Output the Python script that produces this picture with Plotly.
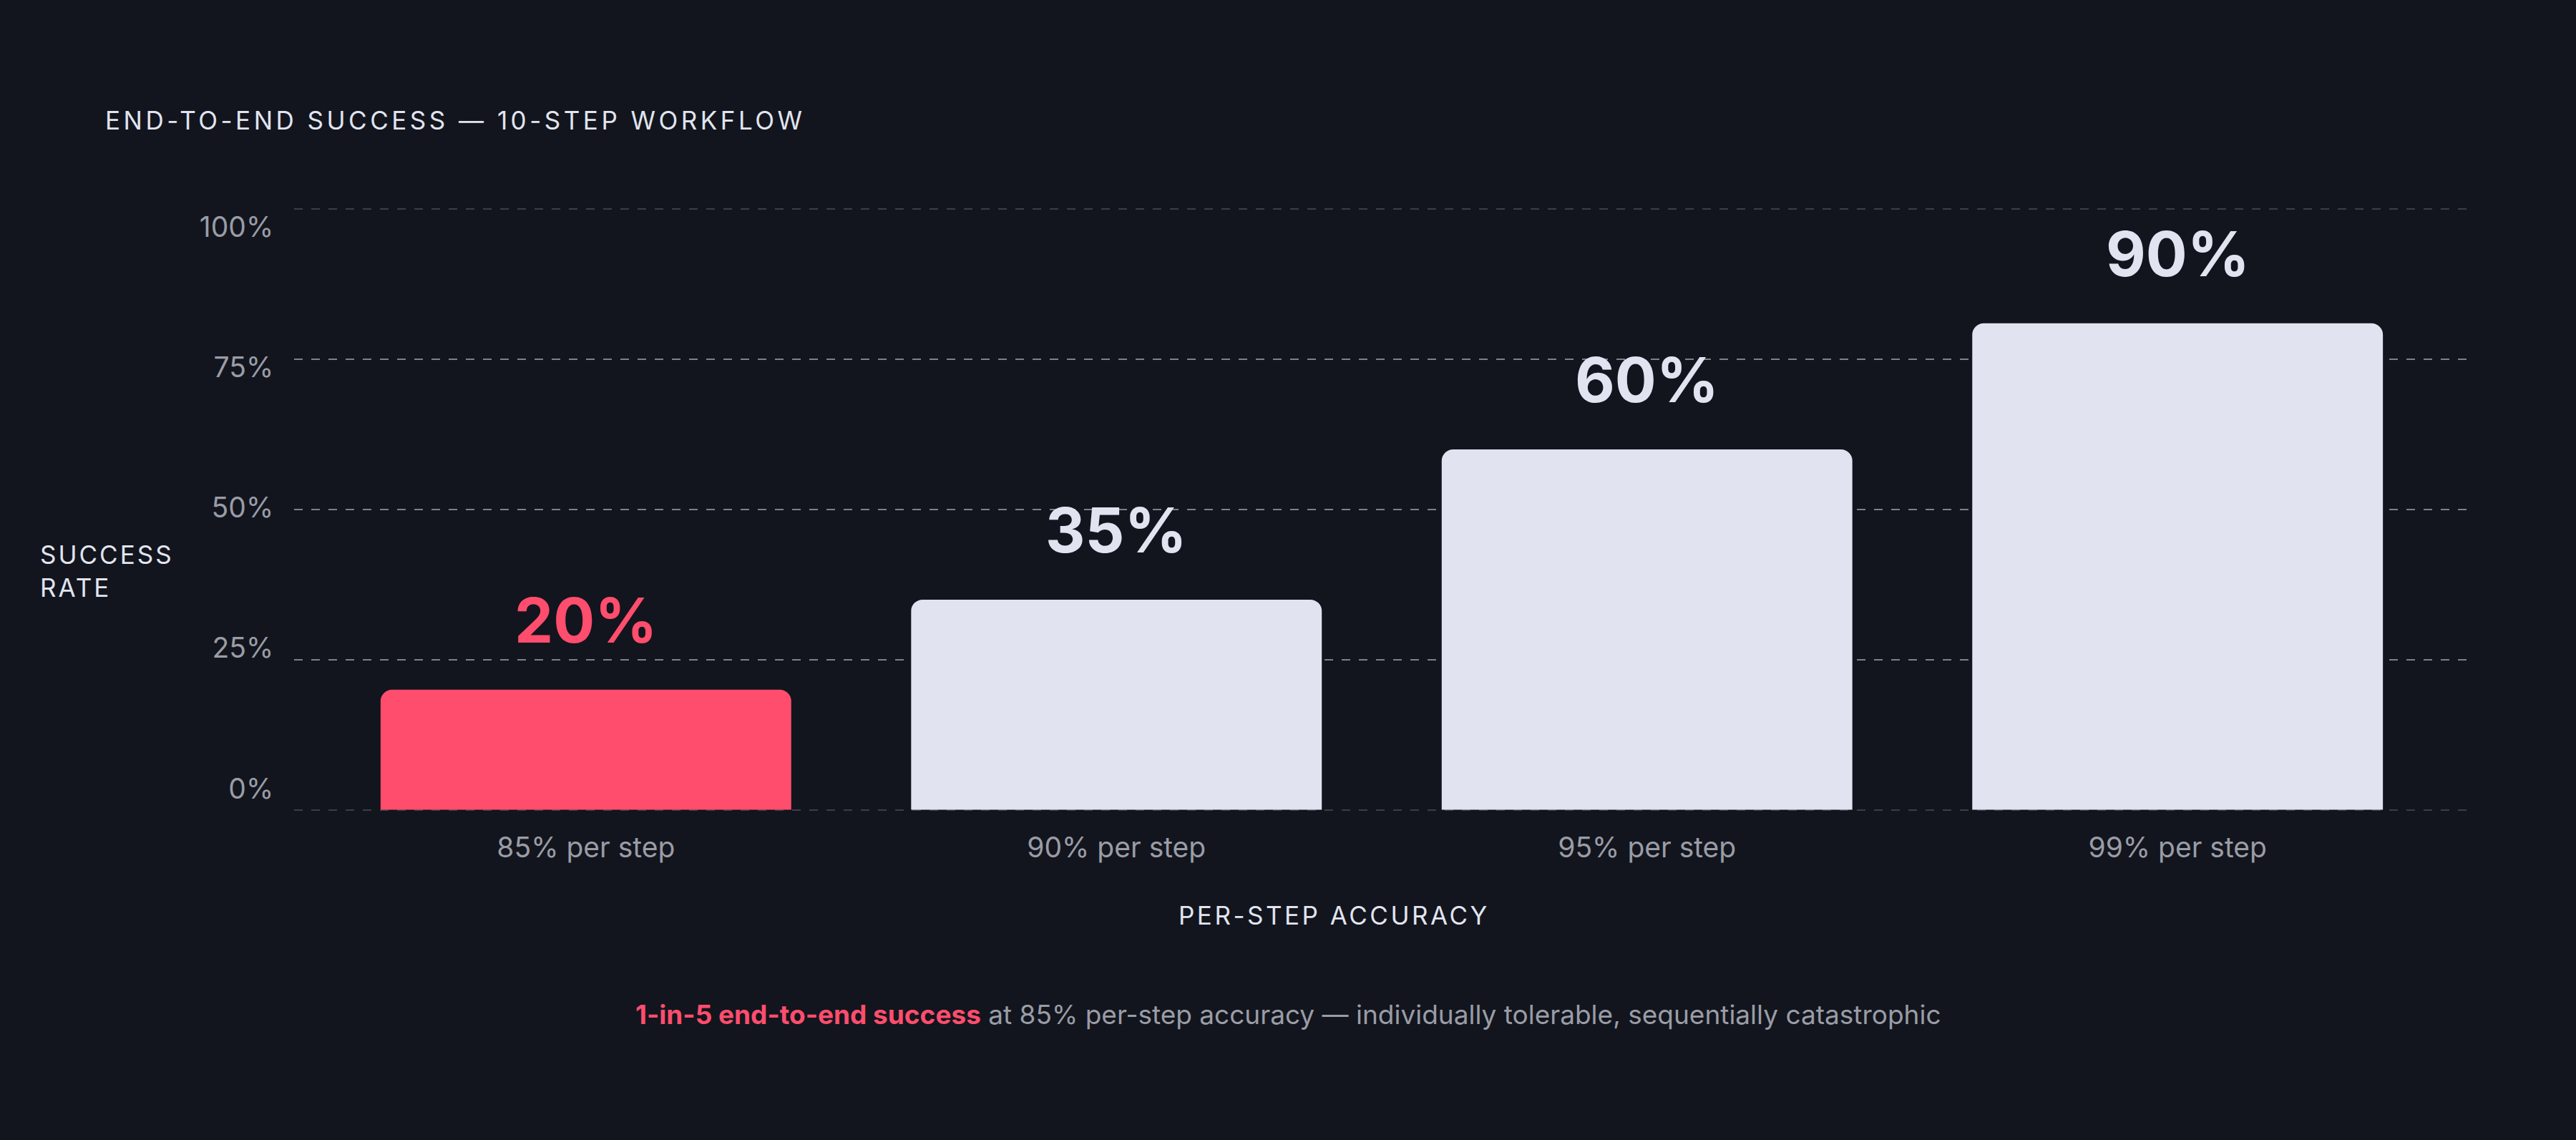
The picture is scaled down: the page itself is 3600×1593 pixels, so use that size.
import plotly.graph_objects as go

# data
steps = ["85% per step", "90% per step", "95% per step", "99% per step"]
bar_heights = [20, 35, 60, 81]
rate_labels = ["20%", "35%", "60%", "90%"]
bar_colors = ["#ff4d6d", "#e1e4f0", "#e1e4f0", "#e1e4f0"]
y_ticks = [0, 25, 50, 75, 100]
y_tick_text = ["0%", "25%", "50%", "75%", "100%"]

BG = "#12151d"
LIGHT = "#e1e4f0"
GRAY = "#9a9ca6"
RED = "#ff4d6d"
FONT = "Inter"


def spaced(txt, px):
    # letter-spaced caps labels
    return '<span style="letter-spacing:' + str(px) + 'px">' + txt + '</span>'


fig = go.Figure()

fig.add_trace(go.Bar(
    x=steps, y=bar_heights,
    marker=dict(color=bar_colors, line=dict(width=0)),
    width=0.774, hoverinfo="skip", showlegend=False,
))
# helper traces so the extra axes get drawn
fig.add_trace(go.Scatter(x=steps, y=bar_heights, yaxis="y2", mode="markers",
                         marker=dict(opacity=0), hoverinfo="skip", showlegend=False))
fig.add_trace(go.Scatter(x=steps, y=bar_heights, yaxis="y3", mode="markers",
                         marker=dict(opacity=0), hoverinfo="skip", showlegend=False))

for s, h, lab, col in zip(steps, bar_heights, rate_labels, bar_colors):
    fig.add_annotation(x=s, y=h, text=lab, showarrow=False, yanchor="middle", yshift=97,
                       font=dict(family=FONT, size=86, color=col, weight=700))

fig.add_annotation(xref="paper", yref="paper", x=-0.0875, y=1.1355, xanchor="left", yanchor="middle",
                   text=spaced("END-TO-END SUCCESS — 10-STEP WORKFLOW", 4.5), showarrow=False,
                   font=dict(family=FONT, size=35, color=LIGHT))
fig.add_annotation(xref="paper", yref="paper", x=-0.1175, y=0.400, xanchor="left", yanchor="middle",
                   align="left", text=spaced("SUCCESS<br>RATE", 3), showarrow=False,
                   font=dict(family=FONT, size=35, color=LIGHT))
fig.add_annotation(xref="paper", yref="paper", x=0.478, y=-0.1624, xanchor="center", yanchor="middle",
                   text=spaced("PER-STEP ACCURACY", 3.5), showarrow=False,
                   font=dict(family=FONT, size=35, color=LIGHT))
fig.add_annotation(xref="paper", yref="paper", x=0.457, y=-0.3236, xanchor="center", yanchor="middle",
                   text='<span style="color:' + RED + '"><b>1-in-5 end-to-end success</b></span>'
                        ' at 85% per-step accuracy — individually tolerable, sequentially catastrophic',
                   showarrow=False, font=dict(family=FONT, size=37, color=GRAY))

fig.update_layout(
    width=3600, height=1593,
    margin=dict(l=411, r=149, t=284, b=453),
    paper_bgcolor=BG, plot_bgcolor=BG,
    barcornerradius=16,
    xaxis=dict(type="category", range=[-0.55, 3.55], showgrid=False, zeroline=False, showline=False,
               ticks="outside", ticklen=10, tickcolor="rgba(0,0,0,0)",
               tickfont=dict(family=FONT, size=39, color=GRAY)),
    yaxis=dict(range=[-1, 101], tickvals=[25, 50, 75], showticklabels=False, zeroline=False,
               showgrid=True, gridcolor="#7e818a", gridwidth=2, griddash="12px,12px"),
    yaxis3=dict(range=[-1, 101], overlaying="y", tickvals=[0, 100], showticklabels=False, zeroline=False,
                showgrid=True, gridcolor="#3b3e47", gridwidth=2, griddash="12px,12px"),
    yaxis2=dict(range=[-4.84, 104.2], overlaying="y", side="left", tickvals=y_ticks, ticktext=y_tick_text,
                showgrid=False, zeroline=False, ticks="outside", ticklen=20, tickcolor="rgba(0,0,0,0)",
                tickfont=dict(family=FONT, size=39, color=GRAY)),
)

# drop the page margin so the figure fills the window
fig.write_html("out.html", config={"displayModeBar": False},
               post_script="document.body.style.margin='0';"
                           "document.body.style.background='" + BG + "';")
